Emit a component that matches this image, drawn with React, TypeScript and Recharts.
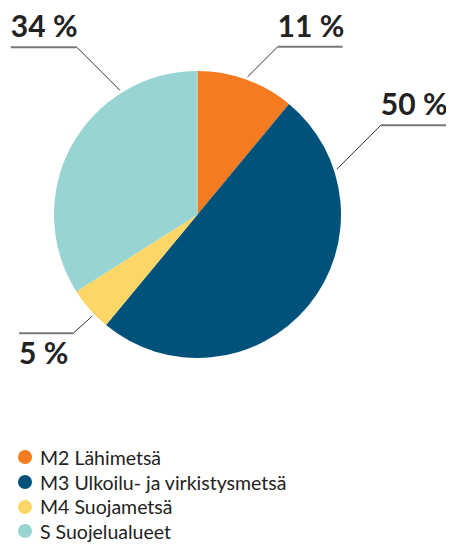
import { PieChart, Pie, Cell, Legend } from "recharts";

const categories = ["M2 Lähimetsä", "M3 Ulkoilu- ja virkistysmetsä", "M4 Suojametsä", "S Suojelualueet"];
const shares = [11, 50, 5, 34];
const colors = ["#F47B20", "#00527A", "#FDD668", "#98D5D2"];

const data = categories.map((name, i) => ({ name, value: shares[i] }));

// leader line placement per slice: angle on the rim (deg, clockwise from top),
// diagonal offset to the elbow, horizontal run (negative = to the left), text above/below
const leaders = [
  { angle: 20, dx: 30, dy: -30, run: 65, below: false },
  { angle: 72, dx: 44, dy: -44, run: 71, below: false },
  { angle: 226, dx: -19, dy: 17, run: -54, below: true },
  { angle: 328, dx: -43, dy: -43, run: -66, below: false },
];

const renderLabel = (props: any) => {
  const { cx, cy, outerRadius, index, value } = props;
  const l = leaders[index];
  const r = outerRadius + 3;
  const a = (l.angle * Math.PI) / 180;
  const x0 = cx + r * Math.sin(a);
  const y0 = cy - r * Math.cos(a);
  const x1 = x0 + l.dx;
  const y1 = y0 + l.dy;
  const x2 = x1 + l.run;
  const tx = Math.min(x1, x2);
  const ty = l.below ? y1 + 31 : y1 - 10;
  return (
    <g>
      <line x1={x0} y1={y0} x2={x1} y2={y1} stroke="#333" strokeWidth={1} />
      <line x1={x1} y1={y1} x2={x2} y2={y1} stroke="#777" strokeWidth={2} />
      <text x={tx} y={ty} fill="#222" fontSize={30} fontWeight={700} fontFamily="Lato, sans-serif">
        {value} %
      </text>
    </g>
  );
};

const renderLegend = () => (
  <ul style={{ listStyle: "none", margin: 0, padding: 0 }}>
    {categories.map((c, i) => (
      <li key={c} style={{ display: "flex", alignItems: "center", height: 24.7, fontSize: 19.5, color: "#222", fontFamily: "Lato, sans-serif" }}>
        <span style={{ width: 14, height: 14, borderRadius: "50%", background: colors[i], display: "inline-block", marginRight: 8 }} />
        {c}
      </li>
    ))}
  </ul>
);

export default function App() {
  return (
    <PieChart width={446} height={536} margin={{ top: 0, right: 0, bottom: 0, left: 0 }}>
      <Pie
        data={data}
        dataKey="value"
        cx={189.5}
        cy={206.5}
        outerRadius={143.5}
        startAngle={90}
        endAngle={-270}
        stroke="none"
        label={renderLabel}
        labelLine={false}
        isAnimationActive={false}
      >
        {data.map((d, i) => (
          <Cell key={d.name} fill={colors[i]} />
        ))}
      </Pie>
      <Legend content={renderLegend} wrapperStyle={{ position: "absolute", left: 10, top: 437, width: 420 }} />
    </PieChart>
  );
}
